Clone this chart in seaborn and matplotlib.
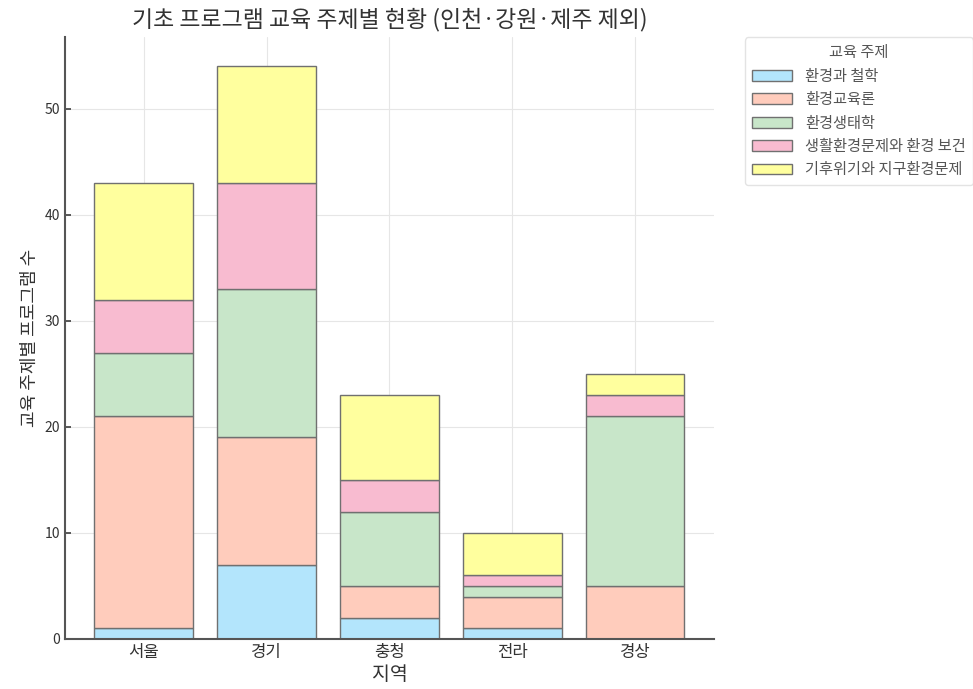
import matplotlib
matplotlib.use("Agg")
import matplotlib.pyplot as plt
import seaborn as sns
import pandas as pd

regions = ["서울", "경기", "충청", "전라", "경상"]
topics = ["환경과 철학", "환경교육론", "환경생태학", "생활환경문제와 환경 보건", "기후위기와 지구환경문제"]
philosophy = [1, 7, 2, 1, 0]
edu_theory = [20, 12, 3, 3, 5]
ecology = [6, 14, 7, 1, 16]
health = [5, 10, 3, 1, 2]
climate = [11, 11, 8, 4, 2]
colors = ["#b3e5fc", "#ffccbc", "#c8e6c9", "#f8bbd0", "#ffff9e"]

series = [philosophy, edu_theory, ecology, health, climate]

sns.set_theme(style="ticks")
plt.rcParams["font.family"] = ["Noto Sans CJK KR", "DejaVu Sans"]

fig = plt.figure(figsize=(9.73, 6.89), dpi=100)
ax = fig.add_axes([0.0668, 0.0726, 0.667, 0.873])

bottom = [0] * len(regions)
for name, vals, col in zip(topics, series, colors):
    df = pd.DataFrame({"지역": regions, "수": vals})
    sns.barplot(data=df, x="지역", y="수", bottom=bottom, color=col,
                edgecolor="#707070", linewidth=1.0, width=0.8,
                label=name, ax=ax, saturation=1)
    bottom = [b + v for b, v in zip(bottom, vals)]

ax.set_xlim(-0.64, 4.64)
ax.set_ylim(0, 56.7)
ax.set_yticks([0, 10, 20, 30, 40, 50])
ax.grid(True, color="#e6e6e6", linewidth=0.8)
ax.set_axisbelow(True)
ax.tick_params(direction="in", length=4, color="#444444", labelsize=10, labelcolor="#333333")
ax.tick_params(axis="x", labelsize=12)
for s in ["top", "right"]:
    ax.spines[s].set_visible(False)
for s in ["left", "bottom"]:
    ax.spines[s].set_color("#555555")
    ax.spines[s].set_linewidth(1.5)

ax.set_xlabel("지역", fontsize=14, color="#333333", labelpad=2)
ax.set_ylabel("교육 주제별 프로그램 수", fontsize=13, color="#333333")
ax.set_title("기초 프로그램 교육 주제별 현황 (인천·강원·제주 제외)", fontsize=16.5, color="#333333", pad=8)

leg = ax.legend(title="교육 주제", loc="upper left", bbox_to_anchor=(1.048, 1.0),
                borderaxespad=0, fontsize=11, title_fontsize=11, frameon=True,
                edgecolor="#dddddd", fancybox=True, labelspacing=0.42,
                handlelength=2.6, handletextpad=0.9, borderpad=0.45)
for t in leg.get_texts():
    t.set_color("#555555")
leg.get_title().set_color("#555555")

fig.savefig("out.png", dpi=100)
